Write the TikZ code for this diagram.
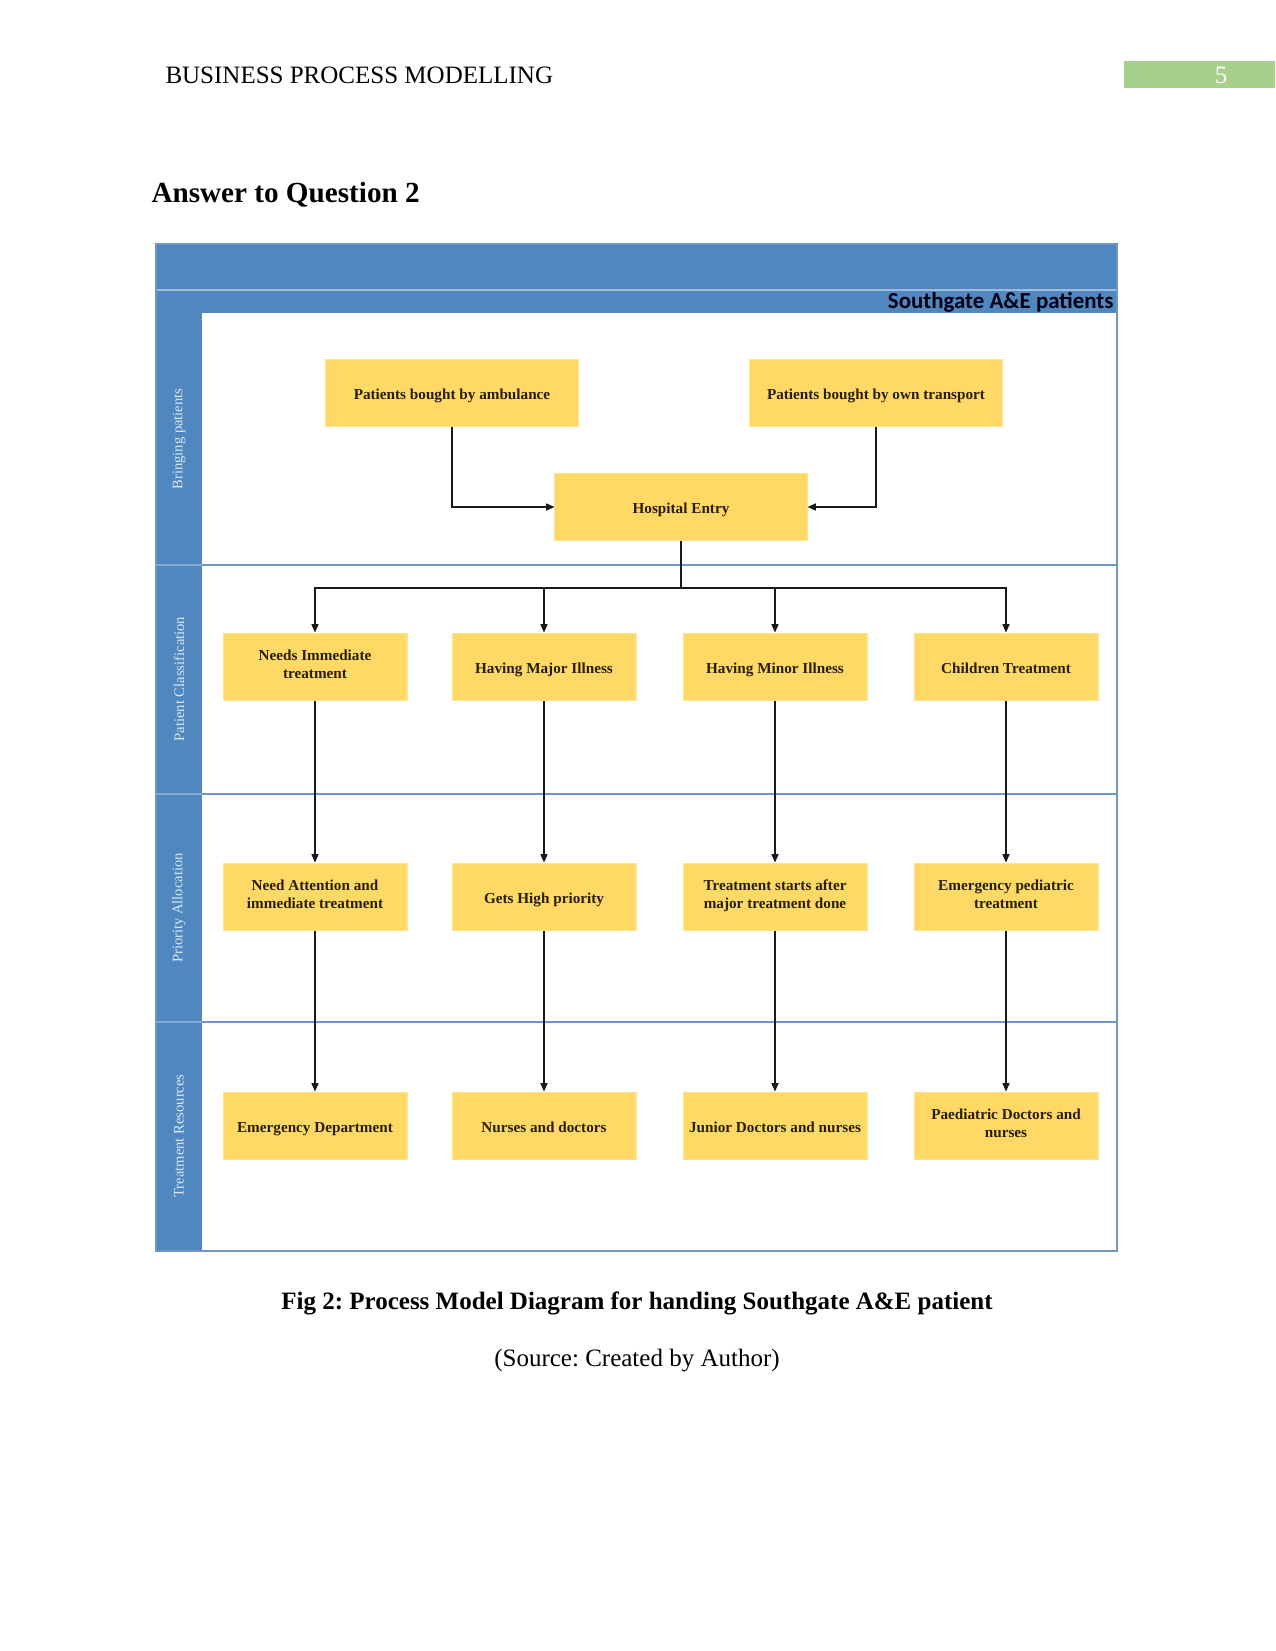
\documentclass[tikz,border=0pt]{standalone}
\usepackage{fontspec}
\setmainfont{Liberation Serif}
\newfontfamily\pooltitlefont{Carlito}
\usetikzlibrary{arrows.meta,positioning}
\frenchspacing

\definecolor{laneblue}{RGB}{79,135,190}
\definecolor{laneline}{RGB}{110,150,205}
\definecolor{boxyellow}{RGB}{255,217,102}
\definecolor{boxtext}{RGB}{40,30,10}
\definecolor{pagegreen}{RGB}{168,208,141}
\definecolor{lanetext}{RGB}{220,232,245}

\begin{document}
\begin{tikzpicture}[x=0.48pt, y=-0.48pt, >={Triangle[length=4pt,width=3.4pt]}, line width=0.5pt,
  stepbox/.style={fill=boxyellow, draw=boxyellow!75!white, minimum width=88.3pt, minimum height=32.6pt,
    align=center, inner sep=1pt, font=\fontsize{7.3}{8.6}\selectfont\bfseries, text=boxtext,
    execute at begin node=\rule{0pt}{8.6pt}, execute at end node=\rule[-2.6pt]{0pt}{0pt}},
  widebox/.style={stepbox, minimum width=121pt},
  lanelabel/.style={rotate=90, text=lanetext, inner sep=0pt, font=\fontsize{7}{8}\selectfont},
  flow/.style={->, black!90}]

  \useasboundingbox (0,0) rectangle (1275,1651);

  % Page header
  \node[anchor=west, inner sep=0pt, font=\fontsize{12}{14}\selectfont] (running) at (165,75) {BUSINESS PROCESS MODELLING};
  \fill[pagegreen] (1124,61) rectangle (1275,88);
  \node[text=white, inner sep=0pt, font=\fontsize{12}{14}\selectfont] (pagenum) at (1221,75) {5};
  \node[anchor=west, inner sep=0pt, font=\fontsize{14}{16}\selectfont\bfseries] (answer) at (151,195) {Answer to Question 2};

  % Pool and lanes
  \fill[laneblue] (156,244) rectangle (1117,313);
  \draw[laneblue!55!white, line width=0.8pt] (156,290) -- (1117,290);
  \fill[laneblue] (156,313) rectangle (202,1251);
  \draw[laneline] (156,244) rectangle (1117,1251);
  \foreach \y in {565,794,1022} {
    \draw[laneline] (202,\y) -- (1117,\y);
    \draw[laneblue!70!white] (156,\y) -- (202,\y);
  }
  \node[anchor=east, inner sep=0pt, text=black!92!blue, font=\pooltitlefont\fontsize{11}{13}\selectfont\bfseries] (pool) at (1114,302) {Southgate A\&E patients};

  % Lane labels
  \node[lanelabel] (lanebring) at (179,439) {Bringing patients};
  \node[lanelabel] (laneclass) at (179,679) {Patient Classification};
  \node[lanelabel] (laneprio) at (179,908) {Priority Allocation};
  \node[lanelabel] (laneres) at (179,1136) {Treatment Resources};

  % Bringing patients
  \node[widebox] (ambulance) at (452,393) {Patients bought by ambulance};
  \node[widebox] (transport) at (876,393) {Patients bought by own transport};
  \node[widebox] (entry) at (681,507) {Hospital Entry};

  % Patient classification
  \node[stepbox] (immediate) at (315,667) {Needs Immediate\\treatment};
  \node[stepbox] (major) at (544,667) {Having Major Illness};
  \node[stepbox] (minor) at (775,667) {Having Minor Illness};
  \node[stepbox] (children) at (1006,667) {Children Treatment};

  % Priority allocation
  \node[stepbox] (attention) at (315,897) {Need Attention and\\immediate treatment};
  \node[stepbox] (high) at (544,897) {Gets High priority};
  \node[stepbox] (after) at (775,897) {Treatment starts after\\major treatment done};
  \node[stepbox] (pediatric) at (1006,897) {Emergency pediatric\\treatment};

  % Treatment resources
  \node[stepbox] (emergency) at (315,1126) {Emergency Department};
  \node[stepbox] (nurses) at (544,1126) {Nurses and doctors};
  \node[stepbox] (junior) at (775,1126) {Junior Doctors and nurses};
  \node[stepbox] (paediatric) at (1006,1126) {Paediatric Doctors and\\nurses};

  % Connectors
  \draw[flow] (ambulance.south) |- (entry.west);
  \draw[flow] (transport.south) |- (entry.east);
  \coordinate (split) at (681,588);
  \draw[black!90] (entry.south) -- (split);
  \foreach \target in {immediate,major,minor,children}
    \draw[flow] (split) -| (\target.north);
  \draw[flow] (immediate) -- (attention);
  \draw[flow] (major) -- (high);
  \draw[flow] (minor) -- (after);
  \draw[flow] (children) -- (pediatric);
  \draw[flow] (attention) -- (emergency);
  \draw[flow] (high) -- (nurses);
  \draw[flow] (after) -- (junior);
  \draw[flow] (pediatric) -- (paediatric);

  % Caption
  \node[font=\fontsize{12}{14}\selectfont\bfseries] (caption) at (637,1303) {Fig 2: Process Model Diagram for handing Southgate A\&E patient};
  \node[font=\fontsize{12}{14}\selectfont] (source) at (637,1361) {(Source: Created by Author)};
\end{tikzpicture}
\end{document}
